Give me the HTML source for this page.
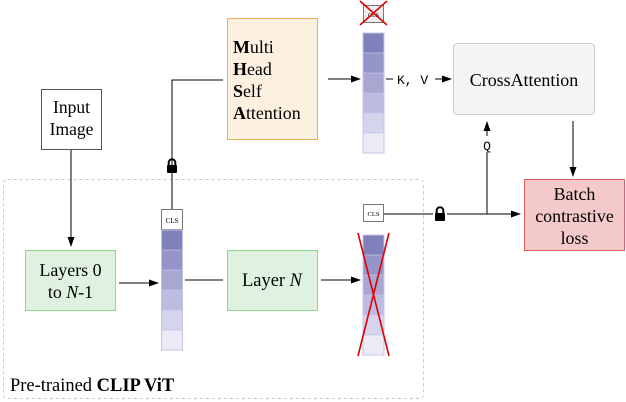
<!DOCTYPE html>
<html><head><style>body{margin:0;background:#fff}svg{display:block}</style></head><body>
<svg width="626" height="402" viewBox="0 0 626 402" xmlns="http://www.w3.org/2000/svg" style="font-family:'Liberation Serif','Times New Roman',serif">
<defs>
<marker id="a" markerWidth="10" markerHeight="8" refX="9" refY="4" orient="auto" markerUnits="userSpaceOnUse"><path d="M0,0.5 L10,4 L0,7.5 Z" fill="#000"/></marker>
<g id="col">
<rect x="0" y="0" width="21" height="20" fill="#8080bb"/>
<rect x="0" y="20" width="21" height="20" fill="#9595c9"/>
<rect x="0" y="40" width="21" height="20" fill="#a7a7d2"/>
<rect x="0" y="60" width="21" height="20" fill="#bcbce0"/>
<rect x="0" y="80" width="21" height="20" fill="#d4d4ec"/>
<rect x="0" y="100" width="21" height="20" fill="#ebebf7"/>
<rect x="0" y="0" width="21" height="120" fill="none" stroke="#c4c4ea" stroke-width="1"/>
<path d="M0,20H21M0,40H21M0,60H21M0,80H21M0,100H21" stroke="#c4c4ea" stroke-width="0.8"/>
</g>
<g id="lock"><rect x="-5" y="-1" width="10" height="8" rx="1" fill="#000"/><path d="M-3.3,-1 V-3.5 A3.3,3.3 0 0 1 3.3,-3.5 V-1" fill="none" stroke="#000" stroke-width="2"/></g>
</defs>
<rect x="3.5" y="179.5" width="420" height="219" rx="4" fill="none" stroke="#c8c8c8" stroke-dasharray="3,3"/>
<g transform="translate(10,391) scale(1.32)"><text x="0" y="0" font-size="14">Pre-trained <tspan font-weight="bold">CLIP ViT</tspan></text></g>

<rect x="41.5" y="89.5" width="60" height="60" fill="#fff" stroke="#555"/>
<g transform="translate(71.5,113) scale(1.25)"><text x="0" y="0" font-size="14" text-anchor="middle">Input</text><text x="0" y="17.5" font-size="14" text-anchor="middle">Image</text></g>
<line x1="71" y1="150" x2="71" y2="246" stroke="#000" marker-end="url(#a)"/>

<rect x="25.5" y="250.5" width="90" height="60" fill="#dff2df" stroke="#8fd48f"/>
<g transform="translate(70.5,276) scale(1.28)"><text x="0" y="0" font-size="14" text-anchor="middle">Layers 0</text><text x="0" y="17" font-size="14" text-anchor="middle">to <tspan font-style="italic">N</tspan>-1</text></g>
<line x1="119" y1="283" x2="158" y2="283" stroke="#000" marker-end="url(#a)"/>

<rect x="161.5" y="209.5" width="21" height="20" fill="#fff" stroke="#777"/>
<text x="172" y="223" font-size="7" text-anchor="middle">CLS</text>
<use href="#col" x="161.5" y="230"/>
<polyline points="172,209 172,80 223,80" fill="none" stroke="#000"/>
<use href="#lock" x="172" y="166"/>

<rect x="227.5" y="18.5" width="90" height="121" fill="#fcf0e0" stroke="#f0b058"/>
<g transform="translate(233,53) scale(1.28)" font-size="14">
<text x="0" y="0"><tspan font-weight="bold">M</tspan>ulti</text>
<text x="0" y="17.2"><tspan font-weight="bold">H</tspan>ead</text>
<text x="0" y="34.4"><tspan font-weight="bold">S</tspan>elf</text>
<text x="0" y="51.6"><tspan font-weight="bold">A</tspan>ttention</text>
</g>
<line x1="328" y1="79" x2="360" y2="79" stroke="#000" marker-end="url(#a)"/>

<rect x="363.5" y="5.5" width="20" height="17" fill="#eee" stroke="#777"/>
<text x="373.5" y="17" font-size="6" text-anchor="middle">CLS</text>
<path d="M360,1 L387,25 M387,1 L360,25" stroke="#d00" stroke-width="1.6"/>
<use href="#col" x="363" y="33"/>
<line x1="386" y1="79" x2="393" y2="79" stroke="#000"/>
<text x="397" y="84" font-size="13" style="font-family:'Liberation Mono',monospace">K, V</text>
<line x1="435" y1="79" x2="451" y2="79" stroke="#000" marker-end="url(#a)"/>

<rect x="453.5" y="43.5" width="141" height="71" rx="4" fill="#f4f4f4" stroke="#ccc"/>
<g transform="translate(524,86) scale(1.28)"><text x="0" y="0" font-size="14" text-anchor="middle">CrossAttention</text></g>
<line x1="573" y1="121" x2="573" y2="176" stroke="#000" marker-end="url(#a)"/>

<rect x="524.5" y="179.5" width="100" height="71" fill="#f4c9c9" stroke="#d86060"/>
<g transform="translate(574.5,200) scale(1.28)" font-size="14" text-anchor="middle">
<text x="0" y="0">Batch</text>
<text x="0" y="17.2">contrastive</text>
<text x="0" y="34.4">loss</text>
</g>

<rect x="363.5" y="204.5" width="20" height="17" fill="#fff" stroke="#777"/>
<text x="373.5" y="216" font-size="6.5" text-anchor="middle">CLS</text>
<line x1="384" y1="214" x2="520" y2="214" stroke="#000" marker-end="url(#a)"/>
<rect x="433" y="206" width="14" height="16" fill="#fff"/>
<use href="#lock" x="440" y="214"/>
<line x1="487" y1="214" x2="487" y2="122" stroke="#000" marker-end="url(#a)"/>
<rect x="480" y="136" width="14" height="16" fill="#fff"/>
<text x="487" y="150" font-size="13" text-anchor="middle" style="font-family:'Liberation Mono',monospace">Q</text>

<line x1="185" y1="280" x2="223" y2="280" stroke="#000"/>
<rect x="227.5" y="250.5" width="90" height="60" fill="#dff2df" stroke="#8fd48f"/>
<g transform="translate(272,286) scale(1.32)"><text x="0" y="0" font-size="14" text-anchor="middle">Layer <tspan font-style="italic">N</tspan></text></g>
<line x1="321" y1="280" x2="360" y2="280" stroke="#000" marker-end="url(#a)"/>
<use href="#col" x="363" y="235"/>
<path d="M358,233 L389,356 M389,233 L358,356" stroke="#d00" stroke-width="1.6"/>
</svg>
</body></html>
